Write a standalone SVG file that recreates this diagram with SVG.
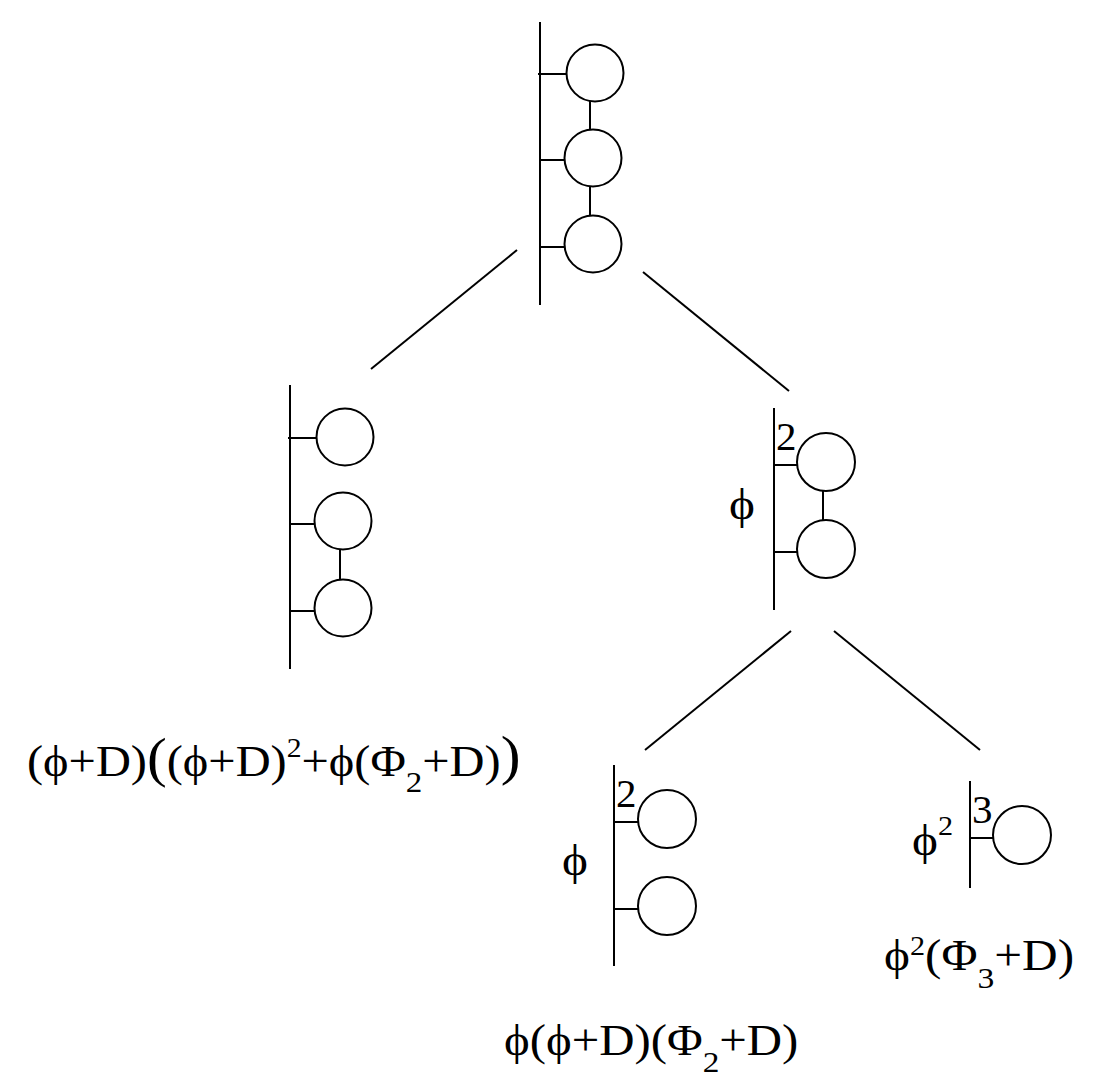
<svg xmlns="http://www.w3.org/2000/svg" width="1108" height="1092" viewBox="0 0 1108 1092">
<style>
line{stroke:#000;stroke-width:2;fill:none}
circle{stroke:#000;stroke-width:2;fill:#fff}
text{font-family:"Liberation Serif","Times New Roman",serif;fill:#000;font-size:44px}
.dg{font-size:41px}
.s{font-size:27px}
.b{font-size:30px}
.big{font-size:54px}
</style>
<rect width="1108" height="1092" fill="#fff"/>
<g id="connectors">
<line x1="517" y1="250" x2="371" y2="369"/>
<line x1="643" y1="272" x2="789" y2="391"/>
<line x1="791" y1="631" x2="645" y2="750"/>
<line x1="834" y1="631" x2="980" y2="750"/>
</g>
<g id="node-top">
<line x1="540" y1="22" x2="540" y2="305"/>
<line x1="538" y1="74" x2="567" y2="74"/>
<line x1="540" y1="160" x2="565" y2="160"/>
<line x1="540" y1="247" x2="565" y2="247"/>
<line x1="590" y1="101" x2="590" y2="130"/>
<line x1="590" y1="187" x2="590" y2="216"/>
<circle cx="595" cy="73" r="28.5"/>
<circle cx="593" cy="158" r="28.5"/>
<circle cx="593" cy="244" r="28.5"/>
</g>
<g id="node-left">
<line x1="290" y1="385" x2="290" y2="669"/>
<line x1="288" y1="438" x2="317" y2="438"/>
<line x1="290" y1="524" x2="315" y2="524"/>
<line x1="290" y1="611" x2="315" y2="611"/>
<line x1="340" y1="549" x2="340" y2="580"/>
<circle cx="345" cy="437" r="28.5"/>
<circle cx="343" cy="521" r="28.5"/>
<circle cx="343" cy="608" r="28.5"/>
<text transform="translate(27,776) scale(1.1,1)">(ϕ+D)<tspan class="big">(</tspan>(ϕ+D)<tspan class="s" dy="-19">2</tspan><tspan dy="19">+ϕ(Φ</tspan><tspan class="b" dy="16">2</tspan><tspan dy="-16">+D)</tspan><tspan class="big" dy="-2">)</tspan></text>
</g>
<g id="node-right">
<line x1="774" y1="408" x2="774" y2="610"/>
<line x1="774" y1="465" x2="797" y2="465"/>
<line x1="774" y1="552" x2="797" y2="552"/>
<line x1="823" y1="491" x2="823" y2="520"/>
<circle cx="826" cy="462" r="29"/>
<circle cx="826" cy="549" r="29"/>
<text x="776" y="450" class="dg">2</text>
<text transform="translate(729,519) scale(1.12,1)">ϕ</text>
</g>
<g id="node-bottom-left">
<line x1="614" y1="765" x2="614" y2="966"/>
<line x1="614" y1="822" x2="639" y2="822"/>
<line x1="614" y1="909" x2="639" y2="909"/>
<circle cx="667" cy="819" r="29"/>
<circle cx="667" cy="906" r="29"/>
<text x="616" y="807" class="dg">2</text>
<text transform="translate(562,875) scale(1.12,1)">ϕ</text>
<text transform="translate(504,1055) scale(1.11,1)">ϕ(ϕ+D)(Φ<tspan class="b" dy="17">2</tspan><tspan dy="-17">+D)</tspan></text>
</g>
<g id="node-bottom-right">
<line x1="970" y1="781" x2="970" y2="888"/>
<line x1="970" y1="838" x2="994" y2="838"/>
<circle cx="1022" cy="835" r="29"/>
<text x="972" y="823" class="dg">3</text>
<text transform="translate(912,855) scale(1.12,1)">ϕ<tspan class="s" dy="-20">2</tspan></text>
<text transform="translate(884,970) scale(1.12,1)">ϕ<tspan class="s" dy="-15">2</tspan><tspan dy="15">(Φ</tspan><tspan class="b" dy="18">3</tspan><tspan dy="-18">+D)</tspan></text>
</g>
</svg>
